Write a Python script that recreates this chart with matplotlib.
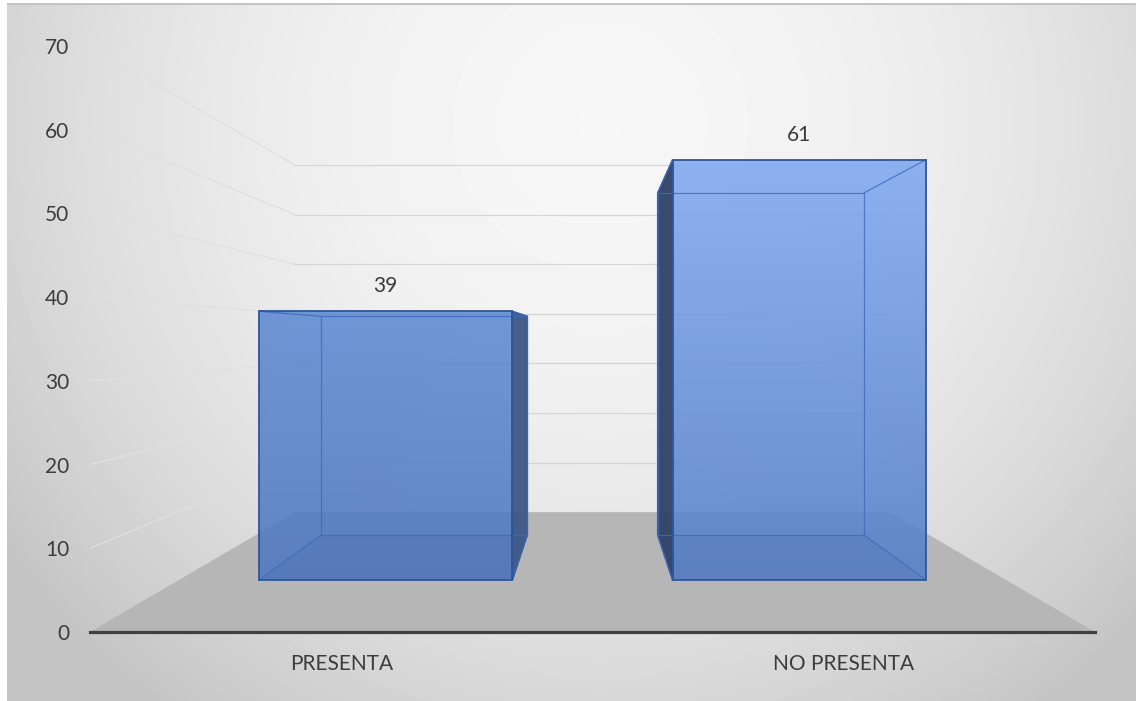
import numpy as np
import matplotlib.pyplot as plt
from matplotlib.patches import Polygon
from matplotlib.colors import LinearSegmentedColormap

categorias = ['PRESENTA', 'NO PRESENTA']
valores = [39, 61]
ticks_y = [0, 10, 20, 30, 40, 50, 60, 70]

plt.rcParams['font.family'] = ['Lato', 'DejaVu Sans']
texto = '#3c3c3c'

W, H = 1136, 701
fig = plt.figure(figsize=(W / 100, H / 100), dpi=100)

# fondo con degradado suave
bg = fig.add_axes([7 / W, 0, (W - 7) / W, 698 / H])
yy, xx = np.mgrid[0:698, 0:W - 7]
r2 = ((xx - 593) / 640.0) ** 2 + ((yy - 120) / 640.0) ** 2
bg.imshow(0.965 - 0.15 * np.clip(r2, 0, 1.3), cmap='gray', vmin=0, vmax=1,
          aspect='auto', interpolation='bilinear')
bg.axhline(0, color='#c4c4c4', lw=1.5)
bg.axis('off')

ax = fig.add_axes([90 / W, 69 / H, 1005 / W, 586 / H])
ax.set_xlim(0, 2)
ax.set_ylim(0, 70)
ax.patch.set_visible(False)

# perspectiva: punto de fuga y profundidad (0 delante, 1 pared del fondo)
VP = (1.0, 35.1)
K = 0.689


def proy(x, v, d):
    s = 1.0 / (1.0 + K * d)
    return (VP[0] + (x - VP[0]) * s, VP[1] + (v - VP[1]) * s)


# suelo
suelo = [proy(0, 0, 0), proy(2, 0, 0), proy(2, 0, 1), proy(0, 0, 1)]
ax.add_patch(Polygon(suelo, closed=True, fc='#b6b6b6', ec='none', zorder=1))

# lineas de division en pared lateral y fondo
for v in ticks_y[1:]:
    a, b, c = proy(0, v, 0), proy(0, v, 1), proy(2, v, 1)
    ax.plot([a[0], b[0]], [a[1], b[1]], color='#e0e0e0', lw=0.9, zorder=2)
    ax.plot([b[0], c[0]], [b[1], c[1]], color='#d6d6d6', lw=0.9, zorder=2)

# barras 3D
ancho = 0.613
d0, d1 = 0.312, 0.715
grad = [('#5e8ad3', '#4f78c0'), ('#80a8f0', '#5580c8')]
lado = ['#3d5886', '#2f4266']
for i, h in enumerate(valores):
    x0, x1 = i + 0.5 - ancho / 2, i + 0.5 + ancho / 2
    P = proy
    frente = [P(x0, 0, d0), P(x1, 0, d0), P(x1, h, d0), P(x0, h, d0)]
    fondo = [P(x0, 0, d1), P(x1, 0, d1), P(x1, h, d1), P(x0, h, d1)]
    if i + 0.5 < VP[0]:
        xs = x1
    else:
        xs = x0
    cara_lado = [P(xs, 0, d0), P(xs, 0, d1), P(xs, h, d1), P(xs, h, d0)]
    abajo = [P(x0, 0, d0), P(x1, 0, d0), P(x1, 0, d1), P(x0, 0, d1)]

    # cara frontal con degradado
    cmap = LinearSegmentedColormap.from_list('b%d' % i, [grad[i][1], grad[i][0]])
    fx = [p[0] for p in frente]
    fy = [p[1] for p in frente]
    poly = Polygon(frente, closed=True, fc='none', ec='none')
    ax.add_patch(poly)
    im = ax.imshow(np.linspace(1, 0, 100).reshape(-1, 1), cmap=cmap, vmin=0, vmax=1,
                   extent=[min(fx), max(fx), min(fy), max(fy)], aspect='auto',
                   alpha=0.88, zorder=3)
    im.set_clip_path(poly)

    ax.add_patch(Polygon(abajo, closed=True, fc='#1f3f80', alpha=0.07, ec='none', zorder=3.1))
    ax.add_patch(Polygon(cara_lado, closed=True, fc=lado[i], alpha=0.95,
                         ec='#2f5597', lw=1.0, zorder=3.2))

    # aristas interiores vistas a traves de la barra
    for xe, ve in [(x0, 0), (x1, 0), (x0, h), (x1, h)]:
        a, b = P(xe, ve, d0), P(xe, ve, d1)
        ax.plot([a[0], b[0]], [a[1], b[1]], color='#3d6bbd', lw=0.9, alpha=0.8, zorder=3.3)
    fxs = [p[0] for p in fondo] + [fondo[0][0]]
    fys = [p[1] for p in fondo] + [fondo[0][1]]
    ax.plot(fxs, fys, color='#3d6bbd', lw=0.9, alpha=0.8, zorder=3.3)

    ax.add_patch(Polygon(frente, closed=True, fc='none', ec='#2f5597', lw=1.3, zorder=3.5))

    top = P(i + 0.5, h, d0)
    ax.annotate(str(h), xy=top, xytext=(0, 18), textcoords='offset points',
                ha='center', va='center', fontsize=15, color=texto, zorder=5)

ax.set_xticks([0.5, 1.5])
ax.set_xticklabels(categorias)
ax.set_yticks(ticks_y)
ax.tick_params(length=0, labelsize=15, labelcolor=texto)
ax.tick_params(axis='y', pad=15)
ax.tick_params(axis='x', pad=16)
for s in ['top', 'left', 'right']:
    ax.spines[s].set_visible(False)
ax.spines['bottom'].set_color('#404040')
ax.spines['bottom'].set_linewidth(2.3)
ax.spines['bottom'].set_zorder(4)

fig.savefig('out.png', dpi=100)
